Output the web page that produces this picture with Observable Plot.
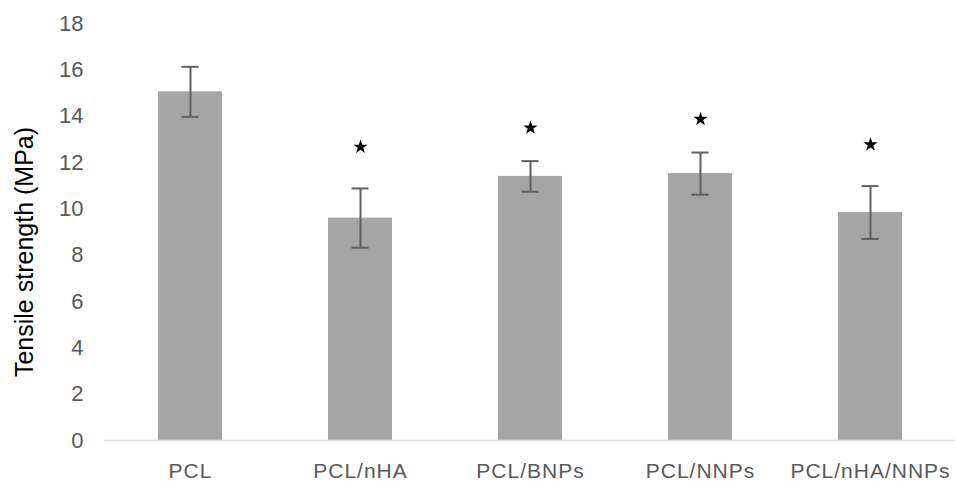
<!DOCTYPE html>
<html>
<head>
<meta charset="utf-8">
<script src="https://cdn.jsdelivr.net/npm/d3@7"></script>
<script src="https://cdn.jsdelivr.net/npm/@observablehq/plot@0.6"></script>
<style>
  html, body { margin: 0; padding: 0; background: #fff; }
  #chart svg { display: block; }
  #chart svg g[aria-label="x-axis tick label"] text { letter-spacing: 1px; }
</style>
</head>
<body>
<div id="chart"></div>
<script>
const categories = ["PCL", "PCL/nHA", "PCL/BNPs", "PCL/NNPs", "PCL/nHA/NNPs"];
const means = [15.05, 9.6, 11.4, 11.52, 9.84];
const errors = [1.08, 1.28, 0.66, 0.91, 1.14];
const starY = [null, 12.67, 13.5, 13.87, 12.77];
const yTicks = [0, 2, 4, 6, 8, 10, 12, 14, 16, 18];
const yTitle = "Tensile strength (MPa)";

const data = categories.map((c, i) => ({
  cat: c, mean: means[i], lo: means[i] - errors[i], hi: means[i] + errors[i], star: starY[i]
}));
const stars = data.filter(d => d.star != null);

const chart = Plot.plot({
  width: 956,
  height: 481,
  marginLeft: 104,
  marginRight: 1,
  marginTop: 23,
  marginBottom: 41,
  style: { fontFamily: "'Liberation Sans', Arial, sans-serif", background: "#fff" },
  x: { domain: categories, paddingInner: 0.624, paddingOuter: 0.312, label: null },
  y: { domain: [0, 18], label: null },
  marks: [
    Plot.barY(data, { x: "cat", y: "mean", fill: "#a5a5a5" }),
    Plot.ruleY([0], { stroke: "#d9d9d9", strokeWidth: 1.5 }),
    Plot.ruleX(data, { x: "cat", y1: "lo", y2: "hi", stroke: "#5f5f5f", strokeWidth: 2 }),
    Plot.tickY(data, { x: "cat", y: "hi", stroke: "#5f5f5f", strokeWidth: 2, insetLeft: 23.5, insetRight: 23.5 }),
    Plot.tickY(data, { x: "cat", y: "lo", stroke: "#5f5f5f", strokeWidth: 2, insetLeft: 23.5, insetRight: 23.5 }),
    Plot.dot(stars, { x: "cat", y: "star", symbol: "star", r: 4.5, fill: "#000", stroke: null }),
    Plot.axisY({ ticks: yTicks, tickSize: 0, tickPadding: 21, fontSize: 22, color: "#595959", label: null, tickFormat: d => String(d) }),
    Plot.axisX({ tickSize: 0, tickPadding: 23, fontSize: 21, color: "#595959", label: null }),
    Plot.text([yTitle], { frameAnchor: "left", dx: -80, dy: 20, rotate: -90, fontSize: 25, fill: "#000", text: d => d, textAnchor: "middle", lineAnchor: "middle" })
  ]
});
document.getElementById("chart").appendChild(chart);
</script>
</body>
</html>
